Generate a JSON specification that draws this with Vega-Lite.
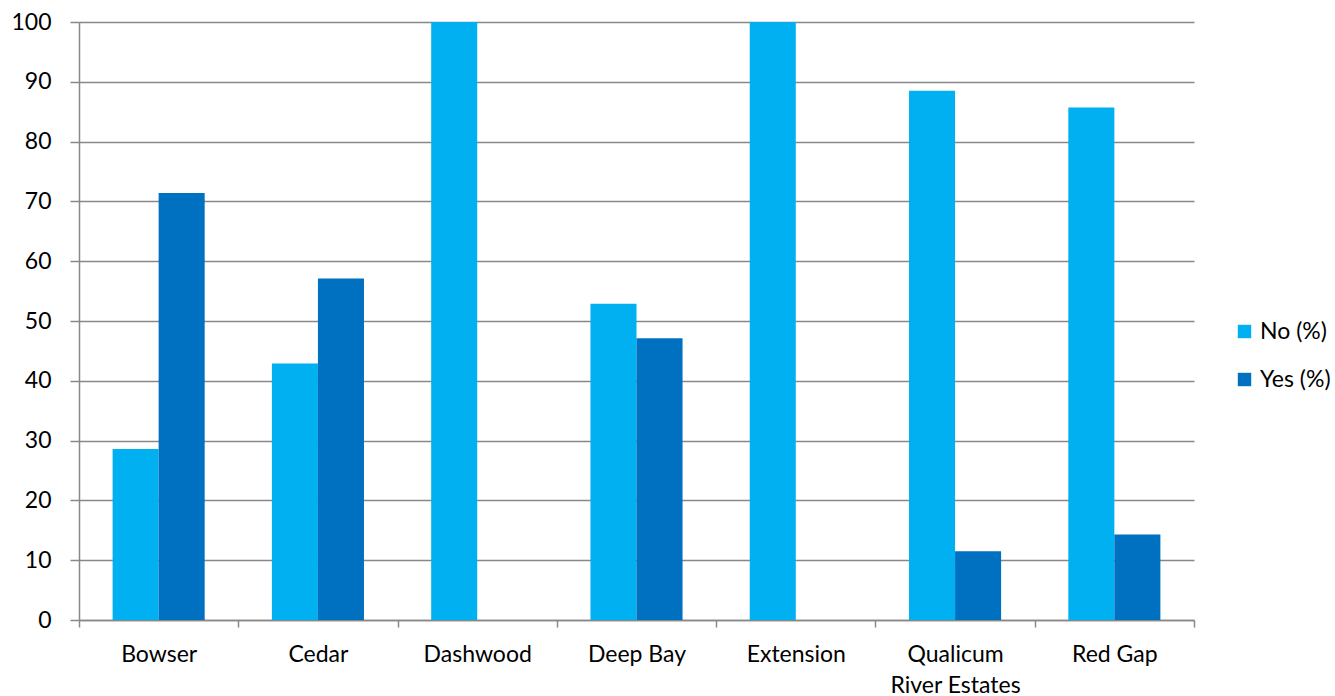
{
  "$schema": "https://vega.github.io/schema/vega-lite/v6.json",
  "width": 1115,
  "height": 598,
  "autosize": {"type": "none"},
  "padding": {"left": 79, "top": 22, "right": 141, "bottom": 76},
  "background": "white",
  "config": {
    "font": "Lato",
    "view": {"stroke": null}
  },
  "data": {
    "values": [
      {"site": "Bowser", "answer": "No (%)", "pct": 28.6},
      {"site": "Bowser", "answer": "Yes (%)", "pct": 71.4},
      {"site": "Cedar", "answer": "No (%)", "pct": 42.9},
      {"site": "Cedar", "answer": "Yes (%)", "pct": 57.1},
      {"site": "Dashwood", "answer": "No (%)", "pct": 100},
      {"site": "Dashwood", "answer": "Yes (%)", "pct": 0},
      {"site": "Deep Bay", "answer": "No (%)", "pct": 52.9},
      {"site": "Deep Bay", "answer": "Yes (%)", "pct": 47.1},
      {"site": "Extension", "answer": "No (%)", "pct": 100},
      {"site": "Extension", "answer": "Yes (%)", "pct": 0},
      {"site": "Qualicum River Estates", "answer": "No (%)", "pct": 88.5},
      {"site": "Qualicum River Estates", "answer": "Yes (%)", "pct": 11.5},
      {"site": "Red Gap", "answer": "No (%)", "pct": 85.7},
      {"site": "Red Gap", "answer": "Yes (%)", "pct": 14.3}
    ]
  },
  "mark": {"type": "bar"},
  "encoding": {
    "x": {
      "field": "site",
      "type": "nominal",
      "sort": null,
      "scale": {"paddingInner": 0, "paddingOuter": 0},
      "axis": {
        "title": null,
        "labelAngle": 0,
        "labelFontSize": 23,
        "labelColor": "#000000",
        "labelPadding": 16,
        "labelLineHeight": 31,
        "labelExpr": "datum.label == 'Qualicum River Estates' ? ['Qualicum', 'River Estates'] : datum.label",
        "tickBand": "extent",
        "tickSize": 7,
        "tickColor": "#888888",
        "domainColor": "#888888",
        "domainWidth": 1.5,
        "tickWidth": 1.5,
        "grid": false
      }
    },
    "xOffset": {
      "field": "answer",
      "type": "nominal",
      "scale": {"paddingInner": 0, "paddingOuter": 0.73}
    },
    "y": {
      "field": "pct",
      "type": "quantitative",
      "scale": {"domain": [0, 100], "nice": false},
      "axis": {
        "title": null,
        "values": [0, 10, 20, 30, 40, 50, 60, 70, 80, 90, 100],
        "labelOverlap": false,
        "labelFontSize": 23,
        "labelColor": "#000000",
        "labelPadding": 19,
        "tickSize": 9,
        "tickColor": "#888888",
        "tickWidth": 1.5,
        "domainColor": "#888888",
        "domainWidth": 1.5,
        "grid": true,
        "gridColor": "#888888",
        "gridWidth": 1.5
      }
    },
    "color": {
      "field": "answer",
      "type": "nominal",
      "scale": {"domain": ["No (%)", "Yes (%)"], "range": ["#00B0F0", "#0070C0"]},
      "legend": {
        "title": null,
        "orient": "none",
        "legendX": 1154,
        "legendY": 298,
        "symbolType": "square",
        "symbolSize": 180,
        "symbolStrokeWidth": 0,
        "labelFontSize": 23,
        "labelColor": "#000000",
        "labelOffset": 4,
        "rowPadding": 24
      }
    }
  }
}
